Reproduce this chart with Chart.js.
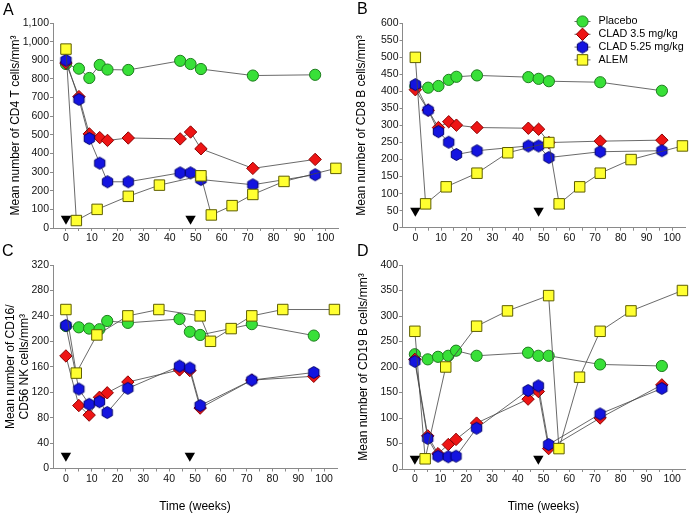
<!DOCTYPE html>
<html><head><meta charset="utf-8">
<script src="https://cdn.jsdelivr.net/npm/chart.js@4.4.1/dist/chart.umd.min.js"></script>
<style>
html,body{margin:0;padding:0;background:#fff;}
#wrap{position:relative;width:689px;height:514px;overflow:hidden;background:#fff;}
canvas{position:absolute;}
.lbl{position:absolute;font-family:"Liberation Sans",Arial,sans-serif;font-size:16px;line-height:16px;color:#000;}
</style></head><body>
<div id="wrap">
<canvas id="cA" width="345" height="250" style="left:0;top:0"></canvas>
<canvas id="cB" width="344" height="250" style="left:345px;top:0"></canvas>
<canvas id="cC" width="345" height="264" style="left:0;top:250px"></canvas>
<canvas id="cD" width="344" height="264" style="left:345px;top:250px"></canvas>
<div class="lbl" style="left:3px;top:2px">A</div>
<div class="lbl" style="left:357px;top:1px">B</div>
<div class="lbl" style="left:2px;top:243px">C</div>
<div class="lbl" style="left:357px;top:243px">D</div>
</div>
<script>
// ---------- data ----------
const seriesNames = ['Placebo', 'CLAD 3.5 mg/kg', 'CLAD 5.25 mg/kg', 'ALEM'];
const cladWeeks = [0, 5, 9, 13, 16, 24, 44, 48, 52, 72, 96];
const alemWeeks = [0, 4, 12, 24, 36, 52, 56, 64, 72, 84, 104];
const dosingWeeks = [0, 48];
const xTickLabels = [0, 10, 20, 30, 40, 50, 60, 70, 80, 90, 100];
const xTitle = 'Time (weeks)';

// Panel A: CD4 T cells
const cd4Placebo = [880, 855, 805, 875, 850, 848, 897, 880, 853, 818, 822];
const cd4Clad35  = [885, 705, 505, 485, 470, 483, 478, 515, 425, 320, 368];
const cd4Clad525 = [900, 690, 480, 348, 248, 248, 296, 296, 260, 232, 286];
const cd4Alem    = [960, 40, 100, 170, 230, 280, 70, 120, 180, 250, 320];
const cd4Ticks   = [0, 100, 200, 300, 400, 500, 600, 700, 800, 900, 1000, 1100];
const cd4Dosing  = 50;
const cd4Title   = 'Mean number of CD4 T cells/mm\u00B3';

// Panel B: CD8 cells
const cd8Placebo = [415, 411, 416, 434, 443, 447, 442, 437, 430, 427, 402];
const cd8Clad35  = [405, 345, 294, 311, 301, 294, 292, 289, 250, 254, 257];
const cd8Clad525 = [420, 345, 282, 251, 215, 226, 240, 240, 206, 223, 226];
const cd8Alem    = [500, 70, 120, 160, 220, 250, 70, 120, 160, 200, 240];
const cd8Ticks   = [0, 50, 100, 150, 200, 250, 300, 350, 400, 450, 500, 550, 600];
const cd8Dosing  = 50;
const cd8Title   = 'Mean number of CD8 B cells/mm\u00B3';

// Panel C: CD16/CD56 NK cells
const nkPlacebo = [224, 222, 220, 219, 232, 229, 235, 215, 210, 227, 209];
const nkClad35  = [177, 99, 84, 112, 119, 136, 155, 154, 95, 139, 145];
const nkClad525 = [225, 125, 101, 105, 88, 126, 161, 158, 99, 139, 151];
const nkAlem    = [250, 150, 210, 240, 250, 240, 200, 220, 240, 250, 250];
const nkTicks   = [0, 40, 80, 120, 160, 200, 240, 280, 320];
const nkDosing  = 20;
const nkTitle   = ['Mean number of CD16/', 'CD56 NK cells/mm\u00B3'];

// Panel D: CD19 B cells
const cd19Placebo = [225, 215, 220, 222, 232, 222, 228, 222, 222, 205, 202];
const cd19Clad35  = [215, 65, 30, 48, 58, 90, 137, 152, 40, 100, 165];
const cd19Clad525 = [211, 60, 25, 24, 25, 80, 154, 163, 48, 108, 158];
const cd19Alem    = [270, 20, 200, 280, 310, 340, 40, 180, 270, 310, 350];
const cd19Ticks   = [0, 50, 100, 150, 200, 250, 300, 350, 400];
const cd19Dosing  = 20;
const cd19Title   = 'Mean number of CD19 B cells/mm\u00B3';

// ---------- styles ----------
const FONT = '"Liberation Sans", Arial, sans-serif';
Chart.defaults.font.family = FONT;
Chart.defaults.font.size = 10.5;
Chart.defaults.color = '#111';
const axisColor = '#8a8a8a';
const lineColor = '#444';
const styles = [
  { fill: '#38e038', edge: '#1d7d1d', shape: 'circle', r: 5.6 },
  { fill: '#ee1515', edge: '#8b0000', shape: 'rectRot', r: 6.2 },
  { fill: '#1414e0', edge: '#00006e', shape: 'hex', r: 6 },
  { fill: '#ffff30', edge: '#5e5e00', shape: 'rect', r: 7.4 }
];

function hexCanvas(r, fill, edge) {
  const s = 15;
  const c = document.createElement('canvas');
  c.width = s; c.height = s;
  const g = c.getContext('2d');
  const cx = s / 2, cy = s / 2;
  g.beginPath();
  for (let i = 0; i < 6; i++) {
    const a = Math.PI / 2 + i * Math.PI / 3;
    const px = cx + r * Math.cos(a), py = cy + r * Math.sin(a);
    if (i) g.lineTo(px, py); else g.moveTo(px, py);
  }
  g.closePath();
  g.fillStyle = fill; g.fill();
  g.lineWidth = 1; g.strokeStyle = edge; g.stroke();
  return c;
}
const hexImg = hexCanvas(6, styles[2].fill, styles[2].edge);

function pointStyleFor(st) { return st.shape === 'hex' ? hexImg : st.shape; }

function drawMarker(ctx, st, x, y) {
  ctx.save();
  ctx.fillStyle = st.fill; ctx.strokeStyle = st.edge; ctx.lineWidth = 1;
  ctx.beginPath();
  if (st.shape === 'circle') {
    ctx.arc(x, y, st.r, 0, Math.PI * 2);
  } else if (st.shape === 'rectRot') {
    ctx.moveTo(x, y - st.r); ctx.lineTo(x + st.r, y); ctx.lineTo(x, y + st.r); ctx.lineTo(x - st.r, y); ctx.closePath();
  } else if (st.shape === 'rect') {
    const h = st.r * Math.SQRT1_2; ctx.rect(x - h, y - h, 2 * h, 2 * h);
  } else {
    ctx.restore();
    ctx.drawImage(hexImg, x - hexImg.width / 2, y - hexImg.height / 2);
    return;
  }
  ctx.fill(); ctx.stroke();
  ctx.restore();
}

const legendPlugin = {
  id: 'panelLegend',
  afterDatasetsDraw(chart, args, opts) {
    if (!opts || !opts.show) return;
    const ctx = chart.ctx;
    ctx.save();
    seriesNames.forEach((name, i) => {
      const y = opts.y + i * opts.rowH;
      ctx.strokeStyle = lineColor; ctx.lineWidth = 0.8;
      ctx.beginPath(); ctx.moveTo(opts.x - 8, y); ctx.lineTo(opts.x + 8, y); ctx.stroke();
      drawMarker(ctx, styles[i], opts.x, y);
      ctx.fillStyle = '#000';
      ctx.font = '10.8px ' + FONT;
      ctx.textBaseline = 'middle';
      ctx.textAlign = 'left';
      ctx.fillText(name, opts.x + 16, y);
    });
    ctx.restore();
  }
};

function pts(weeks, vals) { return weeks.map((w, i) => ({ x: w, y: vals[i] })); }

function makePanel(id, p) {
  const series = [p.placebo, p.clad35, p.clad525, p.alem];
  const datasets = series.map((vals, i) => ({
    label: seriesNames[i],
    data: pts(i === 3 ? alemWeeks : cladWeeks, vals),
    showLine: true,
    tension: 0,
    borderColor: lineColor,
    borderWidth: 0.8,
    pointStyle: pointStyleFor(styles[i]),
    pointRadius: styles[i].r,
    pointHoverRadius: styles[i].r,
    pointBackgroundColor: styles[i].fill,
    pointBorderColor: styles[i].edge,
    pointBorderWidth: 1,
    clip: false,
    order: 4 - i
  }));
  datasets.push({
    label: 'dosing',
    data: dosingWeeks.map(w => ({ x: w, y: p.dosing })),
    showLine: false,
    pointStyle: 'triangle',
    rotation: 180,
    pointRotation: 180,
    pointRadius: 6,
    pointBackgroundColor: '#000',
    pointBorderColor: '#000',
    pointBorderWidth: 0,
    clip: false,
    order: 0
  });
  const yt = p.yTicks;
  return new Chart(document.getElementById(id), {
    type: 'scatter',
    data: { datasets },
    options: {
      responsive: false,
      animation: false,
      devicePixelRatio: 1,
      events: [],
      layout: { autoPadding: false, padding: p.pad },
      plugins: {
        legend: { display: false },
        tooltip: { enabled: false },
        panelLegend: p.legend || { show: false }
      },
      scales: {
        x: {
          type: 'linear', min: -5, max: 105,
          afterFit: s => { s.height = p.xH; },
          ticks: {
            stepSize: 5, autoSkip: false, maxRotation: 0, minRotation: 0, padding: 1,
            color: '#111', font: { size: 10.5 },
            callback: v => (v < 0 || v > 100) ? null : (xTickLabels.includes(v) ? String(v) : '')
          },
          grid: { display: true, drawOnChartArea: false, drawTicks: true, tickLength: 3, color: axisColor },
          border: { display: true, color: axisColor, width: 1 },
          title: p.showXTitle ? { display: true, text: xTitle, color: '#000', font: { size: 12 }, padding: { top: 0, bottom: 0 } } : { display: false }
        },
        y: {
          type: 'linear', min: yt[0], max: yt[yt.length - 1],
          afterFit: s => { s.width = p.yW; },
          afterBuildTicks: s => { s.ticks = yt.map(v => ({ value: v })); },
          ticks: {
            padding: 1, color: '#111', font: { size: 10.5 },
            callback: v => Number(v).toLocaleString('en-US')
          },
          grid: { display: true, drawOnChartArea: false, drawTicks: true, tickLength: 3, color: axisColor },
          border: { display: true, color: axisColor, width: 1 },
          title: { display: true, text: p.yTitle, color: '#000', font: { size: 12 }, padding: { top: p.yTitlePad, bottom: 0 } }
        }
      }
    },
    plugins: [legendPlugin]
  });
}

makePanel('cA', {
  placebo: cd4Placebo, clad35: cd4Clad35, clad525: cd4Clad525, alem: cd4Alem,
  yTicks: cd4Ticks, dosing: cd4Dosing, yTitle: cd4Title,
  pad: { left: 0, top: 23, right: 6.5, bottom: 2 }, yW: 53, xH: 20, yTitlePad: 8, showXTitle: false
});
makePanel('cB', {
  placebo: cd8Placebo, clad35: cd8Clad35, clad525: cd8Clad525, alem: cd8Alem,
  yTicks: cd8Ticks, dosing: cd8Dosing, yTitle: cd8Title,
  pad: { left: 0, top: 23.3, right: 4, bottom: 2 }, yW: 57.5, xH: 20.3, yTitlePad: 9.5, showXTitle: false,
  legend: { show: true, x: 237.5, y: 21.5, rowH: 12.8 }
});
makePanel('cC', {
  placebo: nkPlacebo, clad35: nkClad35, clad525: nkClad525, alem: nkAlem,
  yTicks: nkTicks, dosing: nkDosing, yTitle: nkTitle,
  pad: { left: 0, top: 15, right: 8, bottom: 0 }, yW: 53, xH: 45.5, yTitlePad: 3.3, showXTitle: true
});
makePanel('cD', {
  placebo: cd19Placebo, clad35: cd19Clad35, clad525: cd19Clad525, alem: cd19Alem,
  yTicks: cd19Ticks, dosing: cd19Dosing, yTitle: cd19Title,
  pad: { left: 0, top: 15, right: 4, bottom: 0 }, yW: 57, xH: 45, yTitlePad: 11, showXTitle: true
});
</script>
</body></html>
